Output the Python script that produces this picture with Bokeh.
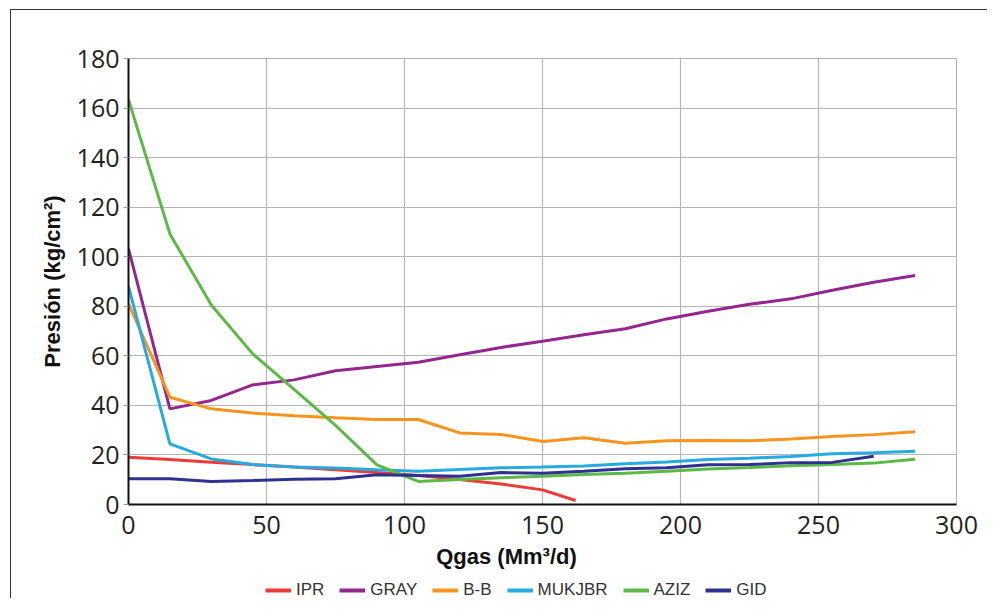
from bokeh.plotting import figure
from bokeh.layouts import column
from bokeh.models import Range1d, Legend, LegendItem, Label, FixedTicker
from bokeh.embed import file_html
from bokeh.resources import INLINE

# ---- data ----
Q = [0, 15, 30, 45, 60, 75, 90, 105, 120, 135, 150, 165, 180, 195, 210, 225, 240, 255, 270, 285]
IPR_Q = [0, 15, 30, 45, 60, 75, 90, 105, 120, 135, 150, 162]
IPR = [19.1, 18.2, 17.1, 16.1, 15.1, 14.0, 12.9, 11.7, 10.1, 8.3, 5.9, 1.6]
GRAY = [103.2, 38.6, 42.0, 48.3, 50.3, 54.0, 55.7, 57.4, 60.4, 63.4, 65.9, 68.5, 70.9, 74.9,
        78.0, 80.8, 83.0, 86.5, 89.7, 92.4]
B_B = [81.0, 43.3, 38.6, 36.9, 35.8, 35.0, 34.3, 34.3, 28.9, 28.3, 25.4, 26.9, 24.7, 25.7,
       25.8, 25.7, 26.4, 27.4, 28.2, 29.4]
MUKJBR = [88.0, 24.5, 18.4, 16.1, 15.1, 14.7, 14.0, 13.4, 14.1, 14.8, 15.1, 15.5, 16.4, 17.2,
          18.2, 18.7, 19.4, 20.5, 20.9, 21.5]
AZIZ = [163.4, 109.2, 80.5, 60.8, 46.5, 31.9, 16.0, 9.3, 10.1, 10.8, 11.4, 12.1, 12.6, 13.4,
        14.3, 14.9, 15.6, 16.1, 16.7, 18.3]
GID_Q = Q[:19]
GID = [10.4, 10.4, 9.3, 9.7, 10.2, 10.4, 12.0, 11.7, 11.4, 12.9, 12.6, 13.4, 14.4, 14.8,
       16.0, 16.1, 16.9, 17.0, 19.5]

SERIES = [
    ("IPR", IPR_Q, IPR, "#ee3b35"),
    ("GRAY", Q, GRAY, "#93278f"),
    ("B-B", Q, B_B, "#f7941d"),
    ("MUKJBR", Q, MUKJBR, "#27aae1"),
    ("AZIZ", Q, AZIZ, "#5cb946"),
    ("GID", GID_Q, GID, "#2e3192"),
]
X_TICKS = [0, 50, 100, 150, 200, 250, 300]
Y_TICKS = [0, 20, 40, 60, 80, 100, 120, 140, 160, 180]
X_TITLE = "Qgas (Mm³/d)"
Y_TITLE = "Presión (kg/cm²)"

FRAME_BG = {
    "background-color": "white",
    "background-image": "linear-gradient(#333333, #333333), linear-gradient(#333333, #333333)",
    "background-position": "10px 9px, 10px 9px",
    "background-size": "1px 100%, 100% 1px",
    "background-repeat": "no-repeat",
}
LEFT_BG = {
    "background-color": "white",
    "background-image": "linear-gradient(#333333, #333333)",
    "background-position": "10px 0px",
    "background-size": "1px 100%",
    "background-repeat": "no-repeat",
}

# ---- main chart ----
p = figure(width=987, height=545, output_backend="svg", toolbar_location=None,
           x_range=Range1d(0, 300), y_range=Range1d(0, 180),
           min_border_left=128, min_border_right=31, min_border_top=58, min_border_bottom=41)
p.styles = FRAME_BG
p.background_fill_color = "white"
p.border_fill_color = None
p.outline_line_color = "#b0b0b0"
p.outline_line_width = 1

p.xaxis.ticker = FixedTicker(ticks=X_TICKS)
p.yaxis.ticker = FixedTicker(ticks=Y_TICKS)
p.xgrid.ticker = FixedTicker(ticks=X_TICKS)
p.ygrid.ticker = FixedTicker(ticks=Y_TICKS)
p.grid.grid_line_color = "#b5b5b5"
p.grid.grid_line_width = 1.2

for ax in (p.xaxis[0], p.yaxis[0]):
    ax.axis_line_color = "#111111"
    ax.axis_line_width = 2
    ax.minor_tick_line_color = None
    ax.major_label_text_font = "Open Sans"
    ax.major_label_text_font_size = "25px"
    ax.major_label_text_color = "#231f20"
p.xaxis.major_tick_out = 0
p.xaxis.major_tick_in = 0
p.xaxis.major_label_standoff = 11
p.yaxis.major_tick_out = 5
p.yaxis.major_tick_in = 0
p.yaxis.major_tick_line_color = "#999999"
p.yaxis.major_label_standoff = 4

p.yaxis.axis_label = Y_TITLE
p.yaxis.axis_label_text_font = "Liberation Sans"
p.yaxis.axis_label_text_font_style = "bold"
p.yaxis.axis_label_text_font_size = "22px"
p.yaxis.axis_label_text_color = "#111111"
p.yaxis.axis_label_standoff = 9

for name, xs, ys, color in SERIES:
    p.line(xs, ys, line_color=color, line_width=3)

# ---- strip below: x title and legend (frame aligned with the chart's frame) ----
p2 = figure(width=987, height=53, output_backend="svg", toolbar_location=None,
            x_range=Range1d(0, 300), y_range=Range1d(1000, 1001),
            x_axis_type=None, y_axis_type=None, min_border=0)
p2.styles = LEFT_BG
p2.background_fill_color = None
p2.border_fill_color = None
p2.outline_line_color = None
p2.grid.visible = False

items = []
for name, xs, ys, color in SERIES:
    r = p2.line(xs, ys, line_color=color, line_width=4)   # off-view; used for legend keys
    items.append(LegendItem(label=name, renderers=[r]))

legend = Legend(items=items, orientation="horizontal", location=(137, -2),
                glyph_width=26, glyph_height=16, label_standoff=5, spacing=15,
                padding=0, margin=0, border_line_color=None, background_fill_alpha=0,
                label_text_font="Liberation Sans", label_text_font_size="17px",
                label_text_color="#333333")
p2.add_layout(legend, "center")

xtitle = Label(x=378, y=42, x_units="screen", y_units="screen", text=X_TITLE,
               text_align="center", text_baseline="middle", text_font="Liberation Sans",
               text_font_style="bold", text_font_size="22px", text_color="#111111")
p2.add_layout(xtitle)

layout = column(p, p2, spacing=0)
open("out.html", "w").write(file_html(layout, INLINE))
